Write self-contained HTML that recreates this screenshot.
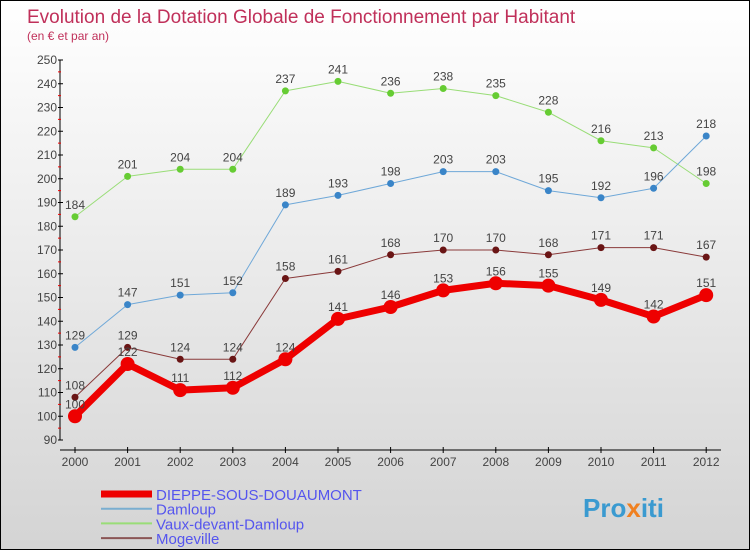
<!DOCTYPE html>
<html><head><meta charset="utf-8"><style>
body{margin:0}
#c{position:relative;width:748px;height:548px;border:1px solid #000;background:linear-gradient(#ffffff,#d4d4d4);font-family:"Liberation Sans",sans-serif;overflow:hidden}
</style></head><body>
<div id="c">
<svg width="748" height="548" id="svg">
<text x="26" y="22" font-size="19" fill="#c0305a">Evolution de la Dotation Globale de Fonctionnement par Habitant</text>
<text x="26" y="39" font-size="12" fill="#c0305a">(en € et par an)</text>
<g id="axes"></g><g id="series"></g><g id="legend"></g>
<text x="582" y="516" font-size="26" font-weight="bold" fill="#3a9ad0">Pro<tspan fill="#f08020">x</tspan>iti</text>
</svg></div>
<script>
const years=["2000","2001","2002","2003","2004","2005","2006","2007","2008","2009","2010","2011","2012"];
const yTicks=[90,100,110,120,130,140,150,160,170,180,190,200,210,220,230,240,250];
const dieppe=[100,122,111,112,124,141,146,153,156,155,149,142,151];
const damloup=[129,147,151,152,189,193,198,203,203,195,192,196,218];
const vaux=[184,201,204,204,237,241,236,238,235,228,216,213,198];
const mogeville=[108,129,124,124,158,161,168,170,170,168,171,171,167];
const NS="http://www.w3.org/2000/svg";
const xs=i=>74+i*52.6, ys=v=>439-(v-90)*2.375;
function mk(t,a,p){const e=document.createElementNS(NS,t);for(const k in a)e.setAttribute(k,a[k]);p.appendChild(e);return e;}
const ax=document.getElementById('axes');
let l=mk('line',{x1:59,y1:59,x2:59,y2:439,stroke:'#000'},ax);

l=mk('line',{x1:59,y1:449,x2:720,y2:449,stroke:'#000'},ax);

yTicks.forEach(v=>{mk('line',{x1:57,x2:62,y1:ys(v),y2:ys(v),stroke:'#000'},ax);
 if(v<250)mk('line',{x1:57,x2:60,y1:ys(v+5),y2:ys(v+5),stroke:'#e00'},ax);
 const t=mk('text',{x:56,y:ys(v)+4,'font-size':12,'text-anchor':'end',fill:'#444'},ax);t.textContent=v;
 });
years.forEach((y,i)=>{mk('line',{x1:xs(i),x2:xs(i),y1:446,y2:452,stroke:'#000'},ax);
 const t=mk('text',{x:xs(i),y:465,'font-size':12,'text-anchor':'middle',fill:'#444'},ax);t.textContent=y;
 });
const sg=document.getElementById('series');
function draw(d,col,dot,w,r,name){
 const p=mk('polyline',{points:d.map((v,i)=>xs(i)+','+ys(v)).join(' '),fill:'none',stroke:col,'stroke-width':w,'stroke-linejoin':'round'},sg);
 
 d.forEach((v,i)=>{const c=mk('circle',{cx:xs(i),cy:ys(v),r:r,fill:dot},sg);
  
  const t=mk('text',{x:xs(i),y:ys(v)-8,'font-size':12,'text-anchor':'middle',fill:'#444'},sg);t.textContent=v;
  });
}
draw(vaux,'#99dd77','#66cc33',1,3.5,'vaux');
draw(damloup,'#6fa8d8','#3a85c8',1,3.5,'damloup');
draw(mogeville,'#8a3a3a','#6a1515',1,3.5,'mogeville');
draw(dieppe,'#ee0000','#ee0000',7,7,'dieppe');
const lg=document.getElementById('legend');
[['DIEPPE-SOUS-DOUAUMONT','#ee0000',7],['Damloup','#7aaed0',2],['Vaux-devant-Damloup','#99dd77',2],['Mogeville','#8a5555',2]].forEach((e,i)=>{
 const y=493+i*14.7;
 const ln=mk('line',{x1:100,x2:151,y1:y,y2:y,stroke:e[1],'stroke-width':e[2]},lg);
 
 const t=mk('text',{x:155,y:y+6,'font-size':15,fill:'#5555ee'},lg);t.textContent=e[0];
 });
</script></body></html>
